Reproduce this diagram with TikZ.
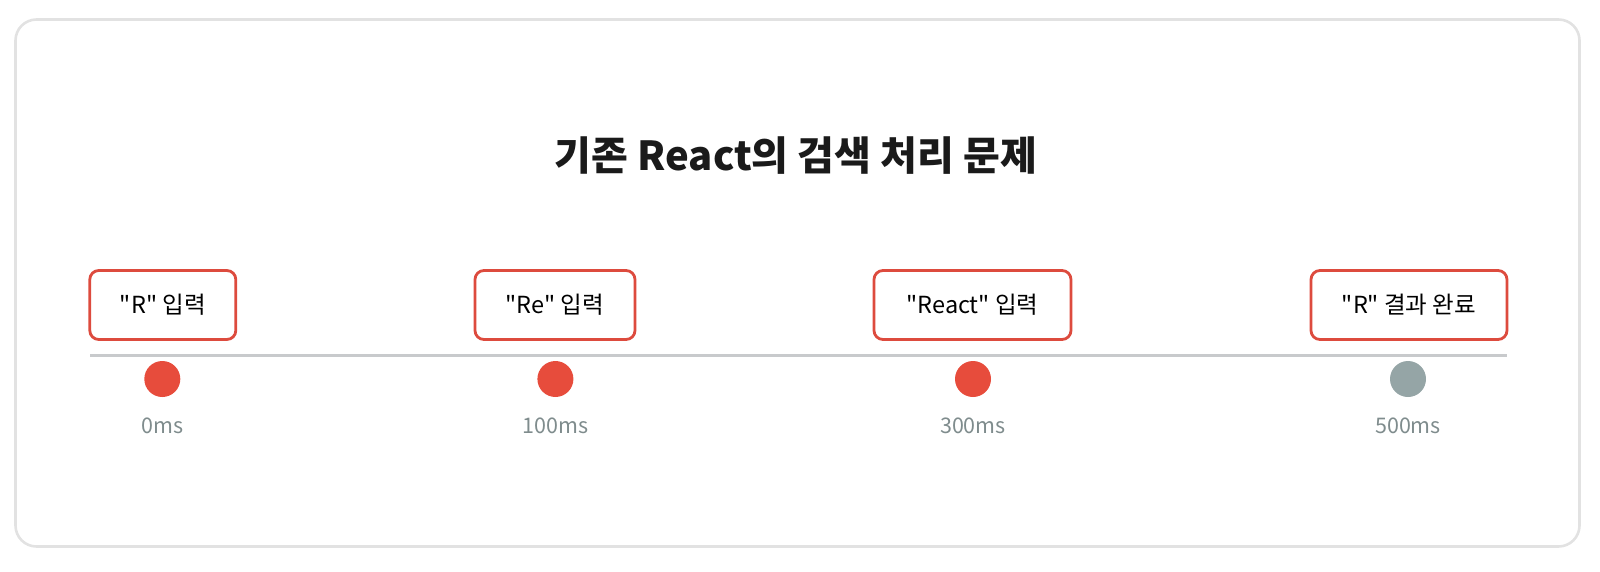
\documentclass[tikz,border=0pt]{standalone}
\usepackage{fontspec}
\setmainfont{Noto Sans CJK KR}
\newfontfamily\krfont{Noto Sans CJK KR}
\definecolor{framegray}{HTML}{E2E2E2}
\definecolor{evred}{HTML}{E74C3C}
\definecolor{boxred}{HTML}{DD4B3E}
\definecolor{evgray}{HTML}{95A5A6}
\definecolor{linegray}{HTML}{C8CACC}
\definecolor{labgray}{HTML}{7F8C8D}
\definecolor{titleblack}{HTML}{1A1A1A}
\tikzset{
  evbox/.style={draw=boxred, line width=2.8pt, rounded corners=9pt, fill=white,
    minimum height=69pt, inner sep=0pt, font=\krfont\fontsize{23.5}{27}\selectfont, text=black},
  evdot/.style={circle, fill=#1, minimum size=36pt, inner sep=0pt},
  timelab/.style={font=\krfont\fontsize{21.5}{25}\selectfont, text=labgray},
}
\begin{document}
\begin{tikzpicture}[x=1pt,y=-1pt]
\useasboundingbox (0,0) rectangle (1600,571);
\node[draw=framegray, line width=2.6pt, rounded corners=21pt, minimum width=1564pt, minimum height=527pt, inner sep=0pt] (frame) at (797.5,283) {};
\node[font=\krfont\bfseries\fontsize{40}{48}\selectfont, text=titleblack] (title) at (796,156) {기존 React의 검색 처리 문제};
\coordinate (tlstart) at (90,355.5);
\coordinate (tlend) at (1507,355.5);
\draw[linegray, line width=3pt] (tlstart) -- (tlend);
\node[evbox, minimum width=146pt] (b1) at (162.8,305) {"R" 입력};
\node[evbox, minimum width=160pt] (b2) at (555,305) {"Re" 입력};
\node[evbox, minimum width=197pt] (b3) at (972.5,305) {"React" 입력};
\node[evbox, minimum width=196pt] (b4) at (1409,305) {"R" 결과 완료};
\node[evdot=evred] (d1) at (162.3,379) {};
\node[evdot=evred] (d2) at (555.4,379) {};
\node[evdot=evred] (d3) at (973,379) {};
\node[evdot=evgray] (d4) at (1408,379) {};
\node[timelab] (t1) at (162.3,426) {0ms};
\node[timelab] (t2) at (555.4,426) {100ms};
\node[timelab] (t3) at (973,426) {300ms};
\node[timelab] (t4) at (1408,426) {500ms};
\end{tikzpicture}
\end{document}
